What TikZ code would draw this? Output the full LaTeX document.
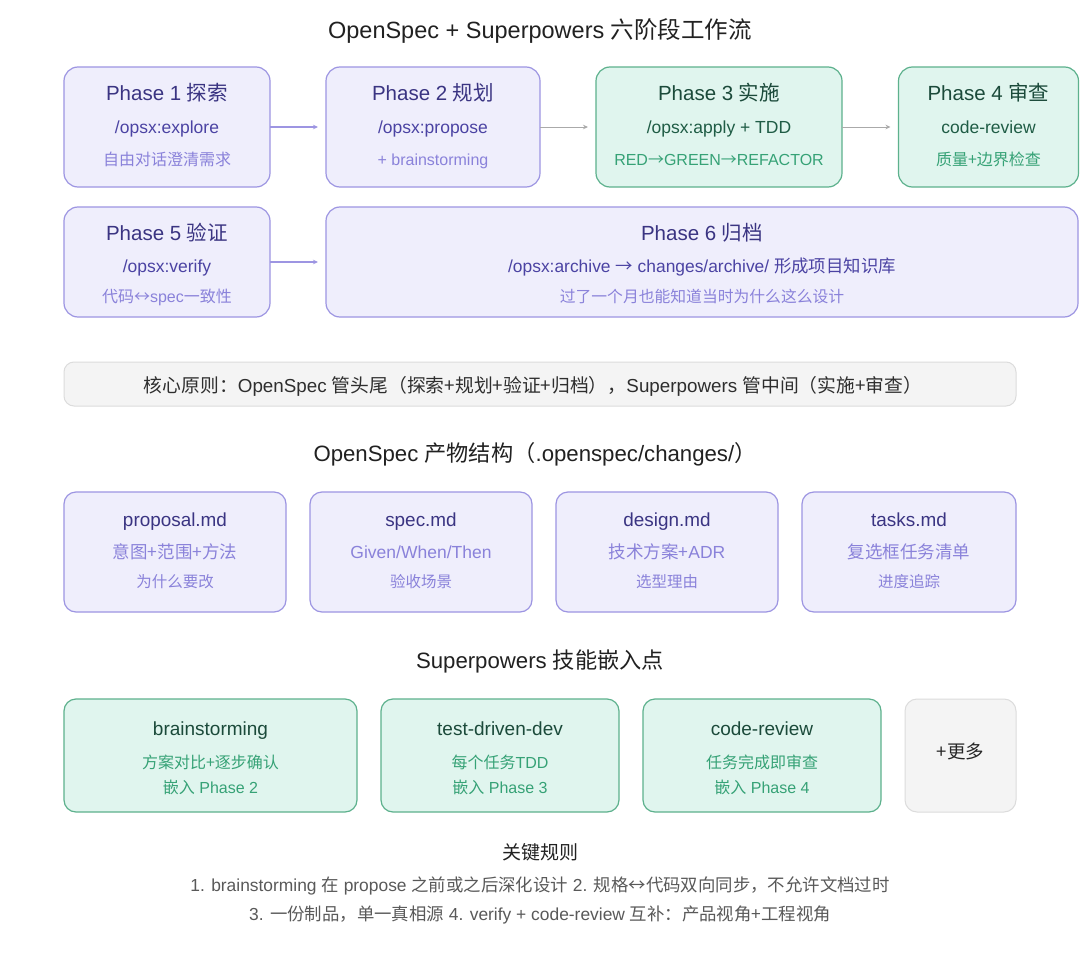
\documentclass[tikz,border=0pt]{standalone}
\usepackage{fontspec}
\setmainfont{Liberation Sans}
\newfontfamily\cjk{Noto Sans CJK SC}
\usetikzlibrary{arrows.meta}
\newcommand\zhs[1]{{\cjk #1}}
\newcommand\fsz[1]{\fontsize{#1}{#1}\selectfont}
\definecolor{pfill}{HTML}{EFEEFC}
\definecolor{pborder}{HTML}{9D95E2}
\definecolor{ptitle}{HTML}{3A3482}
\definecolor{pline}{HTML}{4B43A3}
\definecolor{plight}{HTML}{8A82DA}
\definecolor{gfill}{HTML}{E0F5EE}
\definecolor{gborder}{HTML}{5DB18D}
\definecolor{gtitle}{HTML}{1B4A3A}
\definecolor{gline}{HTML}{1F5C45}
\definecolor{glight}{HTML}{36A276}
\definecolor{xfill}{HTML}{F4F4F4}
\definecolor{xborder}{HTML}{DCDCDC}
\definecolor{garrow}{HTML}{AAAAAA}
\tikzset{
  pbox/.style={draw=pborder, fill=pfill, line width=1.2pt, rounded corners=14pt, inner sep=0pt, outer sep=0pt},
  gbox/.style={draw=gborder, fill=gfill, line width=1.2pt, rounded corners=14pt, inner sep=0pt, outer sep=0pt},
  xbox/.style={draw=xborder, fill=xfill, line width=1pt, rounded corners=10pt, inner sep=0pt, outer sep=0pt},
  txt/.style={inner sep=0pt, anchor=center, text height=0.72em, text depth=0.2em, yshift=-5.5pt},
  parrow/.style={draw=pborder, line width=1.1pt, -{Stealth[length=5pt,width=4.5pt]}, shorten >=8pt},
  garrowst/.style={draw=garrow, line width=0.9pt, -{Stealth[length=5pt,width=4.5pt]}, shorten >=8pt},
}
\begin{document}
\begin{tikzpicture}[x=1pt,y=-1pt]
\useasboundingbox (0,0) rectangle (1080,953);
\fill[white] (0,0) rectangle (1080,953);

% title
\node[txt, text=black!87] (title) at (540,30) {\fsz{23.5}OpenSpec + Superpowers \zhs{六阶段工作流}};

% phase boxes
\node[pbox, minimum width=206pt, minimum height=120pt] (p1) at (167,127) {};
\node[pbox, minimum width=214pt, minimum height=120pt] (p2) at (433,127) {};
\node[gbox, minimum width=246pt, minimum height=120pt] (p3) at (719,127) {};
\node[gbox, minimum width=180pt, minimum height=120pt] (p4) at (988.5,127) {};
\node[pbox, minimum width=206pt, minimum height=110pt] (p5) at (167,262) {};
\node[pbox, minimum width=752pt, minimum height=110pt] (p6) at (702,262) {};

\draw[parrow] (p1) -- (p2);
\draw[garrowst] (p2) -- (p3);
\draw[garrowst] (p3) -- (p4);
\draw[parrow] (p5) -- (p6);

% phase texts
\node[txt, text=ptitle] (p1a) at (167,92) {\fsz{20.5}Phase 1 \zhs{探索}};
\node[txt, text=pline] (p1b) at (167,125) {\fsz{17.5}/opsx:explore};
\node[txt, text=plight] (p1c) at (167,157) {\fsz{16}\zhs{自由对话澄清需求}};

\node[txt, text=ptitle] (p2a) at (433,92) {\fsz{20.5}Phase 2 \zhs{规划}};
\node[txt, text=pline] (p2b) at (433,125) {\fsz{17.5}/opsx:propose};
\node[txt, text=plight] (p2c) at (433,157) {\fsz{16}+ brainstorming};

\node[txt, text=gtitle] (p3a) at (719,92) {\fsz{20.5}Phase 3 \zhs{实施}};
\node[txt, text=gline] (p3b) at (719,125) {\fsz{17.5}/opsx:apply + TDD};
\node[txt, text=glight] (p3c) at (719,157) {\fsz{16}RED\zhs{→}GREEN\zhs{→}REFACTOR};

\node[txt, text=gtitle] (p4a) at (988.5,92) {\fsz{20.5}Phase 4 \zhs{审查}};
\node[txt, text=gline] (p4b) at (988.5,125) {\fsz{17.5}code-review};
\node[txt, text=glight] (p4c) at (988.5,157) {\fsz{16}\zhs{质量+边界检查}};

\node[txt, text=ptitle] (p5a) at (167,232) {\fsz{20.5}Phase 5 \zhs{验证}};
\node[txt, text=pline] (p5b) at (167,264) {\fsz{17.5}/opsx:verify};
\node[txt, text=plight] (p5c) at (167,294) {\fsz{16}\zhs{代码↔}spec\zhs{一致性}};

\node[txt, text=ptitle] (p6a) at (702,232) {\fsz{20.5}Phase 6 \zhs{归档}};
\node[txt, text=pline] (p6b) at (702,264) {\fsz{17.4}/opsx:archive \zhs{→} changes/archive/ \zhs{形成项目知识库}};
\node[txt, text=plight] (p6c) at (702,294) {\fsz{15.8}\zhs{过了一个月也能知道当时为什么这么设计}};

% core principle
\node[xbox, minimum width=952pt, minimum height=44pt] (core) at (540,384) {};
\node[txt, text=black!82] (coret) at (533,384) {\fsz{18.8}\zhs{核心原则：}OpenSpec \zhs{管头尾（探索+规划+验证+归档），}Superpowers \zhs{管中间（实施+审查）}};

% artifacts heading
\node[txt, text=black!87] (h2) at (535,453) {\fsz{22.2}OpenSpec \zhs{产物结构（}.openspec/changes/\zhs{）}};

\node[pbox, rounded corners=12pt, minimum width=222pt, minimum height=120pt] (a1) at (175,552) {};
\node[pbox, rounded corners=12pt, minimum width=222pt, minimum height=120pt] (a2) at (421,552) {};
\node[pbox, rounded corners=12pt, minimum width=222pt, minimum height=120pt] (a3) at (667,552) {};
\node[pbox, rounded corners=12pt, minimum width=214pt, minimum height=120pt] (a4) at (909,552) {};

\node[txt, text=ptitle] (a1a) at (175,518) {\fsz{18.9}proposal.md};
\node[txt, text=plight] (a1b) at (175,550) {\fsz{17.5}\zhs{意图+范围+方法}};
\node[txt, text=plight] (a1c) at (175,579) {\fsz{15.5}\zhs{为什么要改}};

\node[txt, text=ptitle] (a2a) at (421,518) {\fsz{18.9}spec.md};
\node[txt, text=plight] (a2b) at (421,550) {\fsz{17.5}Given/When/Then};
\node[txt, text=plight] (a2c) at (421,579) {\fsz{15.5}\zhs{验收场景}};

\node[txt, text=ptitle] (a3a) at (667,518) {\fsz{18.9}design.md};
\node[txt, text=plight] (a3b) at (667,550) {\fsz{17.5}\zhs{技术方案+}ADR};
\node[txt, text=plight] (a3c) at (667,579) {\fsz{15.5}\zhs{选型理由}};

\node[txt, text=ptitle] (a4a) at (909,518) {\fsz{18.9}tasks.md};
\node[txt, text=plight] (a4b) at (909,550) {\fsz{17.5}\zhs{复选框任务清单}};
\node[txt, text=plight] (a4c) at (909,579) {\fsz{15.5}\zhs{进度追踪}};

% skills heading
\node[txt, text=black!87] (h3) at (540,660) {\fsz{22.2}Superpowers \zhs{技能嵌入点}};

\node[gbox, rounded corners=12pt, minimum width=293pt, minimum height=113pt] (s1) at (210.5,755.5) {};
\node[gbox, rounded corners=12pt, minimum width=238pt, minimum height=113pt] (s2) at (500,755.5) {};
\node[gbox, rounded corners=12pt, minimum width=238pt, minimum height=113pt] (s3) at (762,755.5) {};
\node[xbox, rounded corners=12pt, minimum width=111pt, minimum height=113pt] (s4) at (960.5,755.5) {};

\node[txt, text=gtitle] (s1a) at (210.5,727) {\fsz{19}brainstorming};
\node[txt, text=glight] (s1b) at (210.5,760) {\fsz{16}\zhs{方案对比+逐步确认}};
\node[txt, text=glight] (s1c) at (210.5,785) {\fsz{16}\zhs{嵌入} Phase 2};

\node[txt, text=gtitle] (s2a) at (500,727) {\fsz{19}test-driven-dev};
\node[txt, text=glight] (s2b) at (500,760) {\fsz{16}\zhs{每个任务}TDD};
\node[txt, text=glight] (s2c) at (500,785) {\fsz{16}\zhs{嵌入} Phase 3};

\node[txt, text=gtitle] (s3a) at (762,727) {\fsz{19}code-review};
\node[txt, text=glight] (s3b) at (762,760) {\fsz{16}\zhs{任务完成即审查}};
\node[txt, text=glight] (s3c) at (762,785) {\fsz{16}\zhs{嵌入} Phase 4};

\node[txt, text=black!85] (s4a) at (960.5,750) {\fsz{18.5}\zhs{+更多}};

% rules
\node[txt, text=black!87] (r0) at (540,851) {\fsz{19}\zhs{关键规则}};
\node[txt, text=black!65] (r1) at (540,883) {\fsz{17.4}1. brainstorming \zhs{在} propose \zhs{之前或之后深化设计} 2. \zhs{规格↔代码双向同步，不允许文档过时}};
\node[txt, text=black!65] (r2) at (540,912) {\fsz{17.4}3. \zhs{一份制品，单一真相源} 4. verify + code-review \zhs{互补：产品视角+工程视角}};
\end{tikzpicture}
\end{document}
